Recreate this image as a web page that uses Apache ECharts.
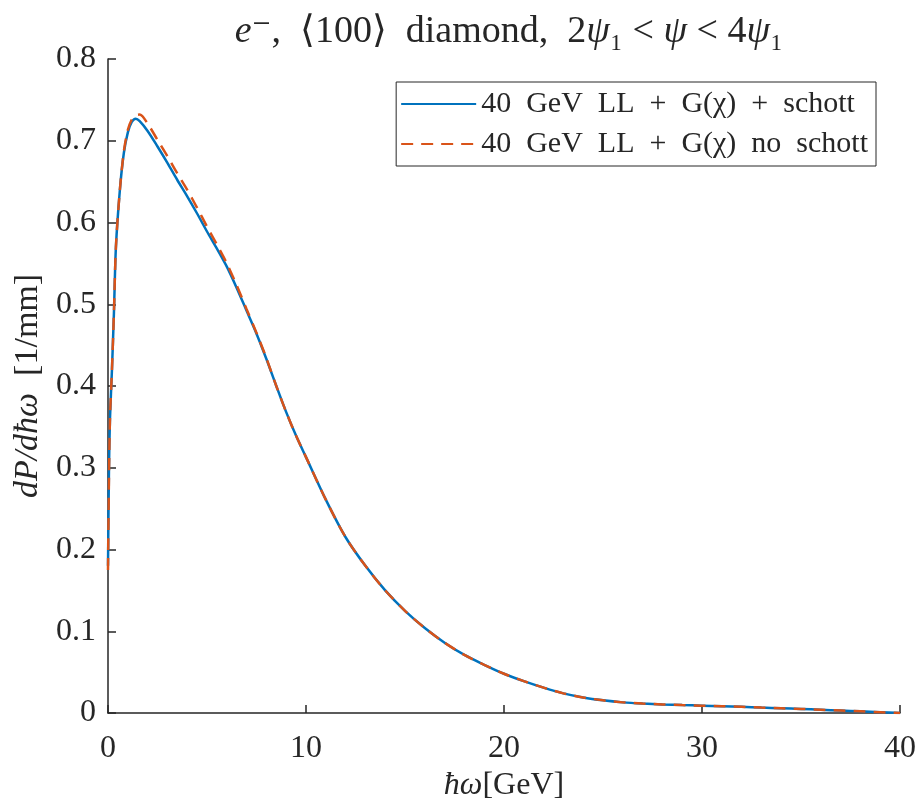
<!DOCTYPE html>
<html>
<head>
<meta charset="utf-8">
<script src="https://cdn.jsdelivr.net/npm/echarts@6/dist/echarts.min.js"></script>
<style>
  html, body { margin: 0; padding: 0; background: #fff; }
  #chart { width: 921px; height: 803px; }
</style>
</head>
<body>
<div id="chart"></div>
<script>
// photon energy (GeV)
const energy = [0, 0.05, 0.1, 0.2, 0.3, 0.4, 0.6, 0.8, 1.0, 1.2, 1.4, 1.6, 2, 2.5, 3, 3.5, 4, 4.5, 5, 5.5,
  6, 6.5, 7, 7.5, 8, 8.5, 9, 9.5, 10, 11, 12, 13, 14, 15, 16, 17, 18, 19, 20,
  21, 22, 23, 24, 25, 26, 27, 28, 29, 30, 31, 32, 33, 34, 35, 36, 37, 38, 39, 40];

// LL + G(chi) + schott
const withSchott = [0.18, 0.30, 0.36, 0.42, 0.49, 0.57, 0.64, 0.685, 0.71, 0.723, 0.727, 0.724, 0.712, 0.693, 0.673, 0.652,
  0.632, 0.611, 0.589, 0.568, 0.546, 0.52, 0.492, 0.464, 0.433, 0.40, 0.368, 0.339, 0.313,
  0.261, 0.215, 0.18, 0.15, 0.125, 0.104, 0.086, 0.071, 0.059, 0.048,
  0.039, 0.031, 0.024, 0.019, 0.0155, 0.013, 0.0115, 0.0105, 0.0097, 0.009, 0.0083, 0.0075, 0.0066,
  0.0058, 0.005, 0.004, 0.003, 0.002, 0.001, 0.0];

// LL + G(chi) no schott
const noSchott = [0.175, 0.29, 0.36, 0.42, 0.49, 0.57, 0.64, 0.687, 0.713, 0.726, 0.731, 0.732, 0.721, 0.701, 0.681, 0.66,
  0.64, 0.618, 0.595, 0.573, 0.55, 0.523, 0.494, 0.465, 0.434, 0.40, 0.368, 0.339, 0.313,
  0.261, 0.215, 0.18, 0.15, 0.125, 0.104, 0.086, 0.071, 0.059, 0.048,
  0.039, 0.031, 0.024, 0.019, 0.0155, 0.013, 0.0115, 0.0105, 0.0097, 0.009, 0.0083, 0.0075, 0.0066,
  0.0058, 0.005, 0.004, 0.003, 0.002, 0.001, 0.0];

const seriesNames = ["40  GeV  LL  +  G(\u03c7)  +  schott", "40  GeV  LL  +  G(\u03c7)  no  schott"];

const serif = "'Liberation Serif', 'DejaVu Serif', serif";
const ink = "#262626";

const zip = (xs, ys) => xs.map((x, i) => [x, ys[i]]);

const richText = (size) => ({
  n: { fontFamily: serif, fontSize: size, color: ink, fontWeight: "normal" },
  i: { fontFamily: serif, fontSize: size, color: ink, fontStyle: "italic", fontWeight: "normal" },
});

const chart = echarts.init(document.getElementById("chart"));
chart.setOption({
  animation: false,
  backgroundColor: "#fff",
  title: {
    text: "{i|e}{n|\u207b,  \u27e8100\u27e9  diamond,  2}{i|\u03c8}{n|\u2081 < }{i|\u03c8}{n| < 4}{i|\u03c8}{n|\u2081}",
    left: 504,
    top: 8,
    textAlign: "center",
    textStyle: { fontWeight: "normal", rich: richText(38) },
  },
  grid: { left: 108, right: 21, top: 59, bottom: 90, outerBoundsMode: "none", containLabel: false },
  legend: {
    orient: "vertical",
    right: 45,
    top: 82,
    padding: [7, 8, 7, 4],
    itemGap: 10,
    itemWidth: 75,
    itemHeight: 14,
    borderColor: ink,
    borderWidth: 1,
    backgroundColor: "#fff",
    itemStyle: { opacity: 0 },
    textStyle: { fontFamily: serif, fontSize: 30, color: ink },
    data: seriesNames,
  },
  xAxis: {
    type: "value",
    min: 0,
    max: 40,
    interval: 10,
    name: "{i|\u0127\u03c9}{n|[GeV]}",
    nameLocation: "middle",
    nameGap: 44,
    nameTextStyle: { rich: richText(32) },
    axisLine: { lineStyle: { color: ink, width: 1.5 } },
    axisTick: { inside: true, length: 8, lineStyle: { color: ink, width: 1.5 } },
    axisLabel: { fontFamily: serif, fontSize: 32, color: ink, margin: 20 },
    splitLine: { show: false },
  },
  yAxis: {
    type: "value",
    min: 0,
    max: 0.8,
    interval: 0.1,
    name: "{i|dP/d\u0127\u03c9}{n|  [1/mm]}",
    nameLocation: "middle",
    nameGap: 62,
    nameTextStyle: { rich: richText(34) },
    axisLine: { show: true, lineStyle: { color: ink, width: 1.5 } },
    axisTick: { show: true, inside: true, length: 8, lineStyle: { color: ink, width: 1.5 } },
    axisLabel: { fontFamily: serif, fontSize: 32, color: ink, margin: 12 },
    splitLine: { show: false },
  },
  series: [
    {
      name: seriesNames[0],
      type: "line",
      data: zip(energy, withSchott),
      smooth: 0.3,
      symbol: "none",
      lineStyle: { color: "#0072BD", width: 2.5 },
      itemStyle: { color: "#0072BD" },
    },
    {
      name: seriesNames[1],
      type: "line",
      data: zip(energy, noSchott),
      smooth: 0.3,
      symbol: "none",
      lineStyle: { color: "#D95319", width: 2.5, type: [12, 8] },
      itemStyle: { color: "#D95319" },
    },
  ],
});
</script>
</body>
</html>
